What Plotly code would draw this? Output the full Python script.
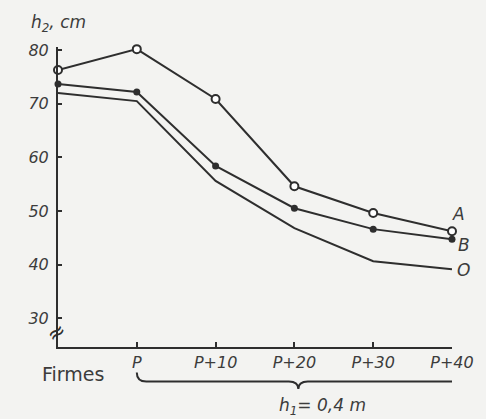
import plotly.graph_objects as go

categories = ["Firmes", "P", "P+10", "P+20", "P+30", "P+40"]
series_A = [76.3, 80.2, 70.9, 54.6, 49.6, 46.2]
series_B = [73.7, 72.2, 58.4, 50.5, 46.6, 44.7]
series_O = [72.0, 70.5, 55.6, 46.8, 40.6, 39.1]
y_ticks = [30, 40, 50, 60, 70, 80]

BG = "#f3f3f1"
INK = "#2e2e2e"
TXT = "#3c3c3c"
FONT = "DejaVu Sans"

xs = list(range(len(categories)))

fig = go.Figure()
fig.add_trace(go.Scatter(x=xs, y=series_A, mode="lines+markers", name="A",
                         line=dict(color=INK, width=2),
                         marker=dict(symbol="circle", size=8, color="white",
                                     line=dict(color=INK, width=2)),
                         cliponaxis=False))
fig.add_trace(go.Scatter(x=xs, y=series_B, mode="lines+markers", name="B",
                         line=dict(color=INK, width=2),
                         marker=dict(symbol="circle", size=7, color=INK),
                         cliponaxis=False))
fig.add_trace(go.Scatter(x=xs, y=series_O, mode="lines", name="O",
                         line=dict(color=INK, width=2),
                         cliponaxis=False))

fig.update_layout(
    width=486, height=419,
    margin=dict(l=58, r=27, t=47, b=72),
    paper_bgcolor=BG, plot_bgcolor=BG,
    showlegend=False,
    font=dict(family=FONT, color=TXT),
    xaxis=dict(range=[0, 5], tickvals=xs[1:], ticktext=categories[1:],
               showgrid=False, zeroline=False, showline=True,
               linecolor=INK, linewidth=2, ticks="inside", ticklen=5,
               tickcolor=INK, tickwidth=1.5,
               tickfont=dict(family=FONT, size=16, color=TXT, style="italic"),
               ticklabelstandoff=0),
    yaxis=dict(range=[24.6, 80.6], tickvals=y_ticks,
               showgrid=False, zeroline=False, showline=True,
               linecolor=INK, linewidth=2, ticks="inside", ticklen=4,
               tickcolor=INK, tickwidth=1.5,
               tickfont=dict(family=FONT, size=16, color=TXT, style="italic"),
               ticklabelstandoff=4),
)

# Curve labels
ends = [("A", series_A[-1], 6, 17), ("B", series_B[-1], 12, -6), ("O", series_O[-1], 11, -1)]
for lab, yv, dx, dy in ends:
    fig.add_annotation(x=xs[-1], y=yv, text=lab, showarrow=False,
                       xshift=dx, yshift=dy, xanchor="center", yanchor="middle",
                       font=dict(family=FONT, size=17, color=TXT, style="italic"))

# Axis title
fig.add_annotation(xref="paper", yref="paper", x=0.0, y=1.0, text="h<sub>2</sub>, cm",
                   showarrow=False, xanchor="center", yanchor="bottom", yshift=10,
                   font=dict(family=FONT, size=17, color=TXT, style="italic"))

# Firmes label
fig.add_annotation(xref="x", yref="paper", x=xs[0], y=0, text=categories[0],
                   showarrow=False, xanchor="center", yanchor="middle",
                   xshift=15, yshift=-27,
                   font=dict(family=FONT, size=19, color=TXT))

# Axis break symbol
fig.add_annotation(xref="paper", yref="y", x=0, y=27.3, text="≈", showarrow=False,
                   xanchor="center", yanchor="middle", xshift=-2,
                   textangle=-35,
                   font=dict(family=FONT, size=22, color=INK))

# Brace under P .. P+40
x0, x1 = xs[1], xs[-1] + 0.1
xm = (x0 + x1) / 2
d = 0.12
y0, y1, y2 = -0.085, -0.115, -0.14
path = (f"M {x0},{y0} Q {x0},{y1} {x0+d},{y1} L {xm-d},{y1} "
        f"Q {xm},{y1} {xm},{y2} Q {xm},{y1} {xm+d},{y1} "
        f"L {x1-d},{y1} Q {x1},{y1} {x1},{y0}")
fig.add_shape(type="path", xref="x", yref="paper", path=path,
              line=dict(color=INK, width=2))

fig.add_annotation(xref="x", yref="paper", x=xm, y=y2, text="h<sub>1</sub>= 0,4 m",
                   showarrow=False, xanchor="center", yanchor="top", xshift=24, yshift=-4,
                   font=dict(family=FONT, size=17, color=TXT, style="italic"))

fig.write_html("out.html", config={"displayModeBar": False},
               post_script="document.body.style.margin='0';document.body.style.background='%s';" % BG)
